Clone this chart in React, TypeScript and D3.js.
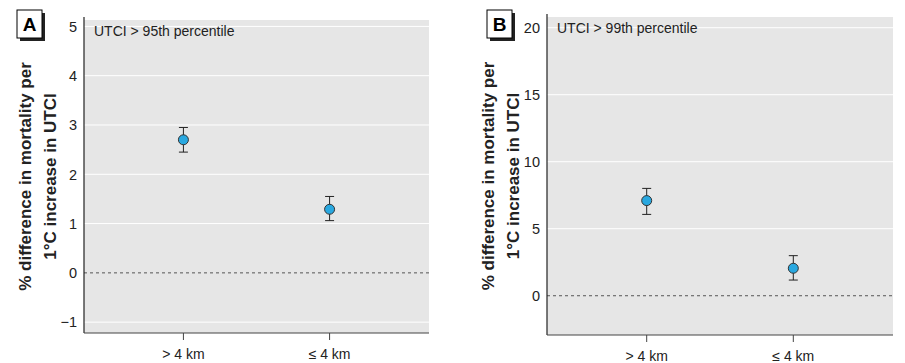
import React from "react";
import * as d3 from "d3";

const categories = ["> 4 km", "≤ 4 km"];

// panel A: UTCI > 95th percentile
const estA = [2.7, 1.29];
const lowA = [2.45, 1.06];
const highA = [2.95, 1.55];
const ticksA = [-1, 0, 1, 2, 3, 4, 5];

// panel B: UTCI > 99th percentile
const estB = [7.1, 2.05];
const lowB = [6.07, 1.17];
const highB = [8.01, 2.99];
const ticksB = [0, 5, 10, 15, 20];

const FONT = "'Liberation Sans Narrow', 'Arial Narrow', 'Liberation Sans', sans-serif";

type PanelProps = {
  letter: string;
  title: string;
  est: number[];
  low: number[];
  high: number[];
  ticks: number[];
  yDomain: [number, number];
  offsetX: number;
  left: number;
  right: number;
  top: number;
  bottom: number;
};

function Panel({ letter, title, est, low, high, ticks, yDomain, offsetX, left, right, top, bottom }: PanelProps) {
  const x = d3.scalePoint<string>().domain(categories).range([left, right]).padding(0.68);
  const y = d3.scaleLinear().domain(yDomain).range([bottom, top]);
  const fmt = (v: number) => (v < 0 ? "\u2212" + Math.abs(v) : String(v));
  const cap = 4.5;
  return (
    <g transform={`translate(${offsetX},0)`} fontFamily={FONT}>
      {/* letter box with shadow */}
      <rect x={20} y={13} width={25} height={28} fill="#222" />
      <rect x={17} y={10} width={25} height={28} fill="#fff" stroke="#000" strokeWidth={1} />
      <text x={29.5} y={31} textAnchor="middle" fontSize={19} fontWeight="bold" fill="#000">{letter}</text>

      <rect x={left} y={top} width={right - left} height={bottom - top} fill="#e6e6e6" />
      {ticks.map(t => (
        <g key={t}>
          {t !== 0 && <line x1={left} x2={right} y1={y(t)} y2={y(t)} stroke="#fff" strokeWidth={1} />}
          <text x={left - 7} y={y(t)} dy="0.36em" textAnchor="end" fontSize={14.5} fill="#222">{fmt(t)}</text>
        </g>
      ))}
      <line x1={left} x2={right} y1={y(0)} y2={y(0)} stroke="#555" strokeWidth={1} strokeDasharray="3,3" />
      <line x1={left} x2={left} y1={top - 3} y2={bottom} stroke="#222" strokeWidth={1.2} />
      <line x1={left} x2={right} y1={bottom} y2={bottom} stroke="#444" strokeWidth={1.2} />
      {categories.map(c => (
        <g key={c}>
          <line x1={x(c)} x2={x(c)} y1={bottom} y2={bottom + 7} stroke="#444" />
          <text x={x(c)} y={bottom + 26} textAnchor="middle" fontSize={14} fill="#222">{c}</text>
        </g>
      ))}
      <text x={left + 10} y={top + 16} fontSize={14} fill="#222">{title}</text>

      {categories.map((c, i) => (
        <g key={c} stroke="#222" strokeWidth={1}>
          <line x1={x(c)} x2={x(c)} y1={y(high[i])} y2={y(low[i])} />
          <line x1={x(c)! - cap} x2={x(c)! + cap} y1={y(high[i])} y2={y(high[i])} />
          <line x1={x(c)! - cap} x2={x(c)! + cap} y1={y(low[i])} y2={y(low[i])} />
          <circle cx={x(c)} cy={y(est[i])} r={5} fill="#29a8e0" stroke="#333" />
        </g>
      ))}

      <text transform={`translate(${left - 53},${(top + bottom) / 2}) rotate(-90)`} textAnchor="middle" fontSize={17} fontWeight="bold" fill="#222">
        <tspan x={0} dy={0}>% difference in mortality per</tspan>
        <tspan x={0} dy={25}>1°C increase in UTCI</tspan>
      </text>
    </g>
  );
}

export default function App() {
  return (
    <svg width={905} height={363} style={{ display: "block", position: "absolute", left: 0, top: 0 }}>
      <rect width={905} height={363} fill="#fff" />
      <Panel letter="A" title="UTCI > 95th percentile" est={estA} low={lowA} high={highA} ticks={ticksA}
        yDomain={[-1.22, 5.13]} offsetX={0} left={84} right={429} top={20} bottom={333} />
      <Panel letter="B" title="UTCI > 99th percentile" est={estB} low={lowB} high={highB} ticks={ticksB}
        yDomain={[-2.93, 20.8]} offsetX={470} left={77} right={423} top={17} bottom={335} />
    </svg>
  );
}
